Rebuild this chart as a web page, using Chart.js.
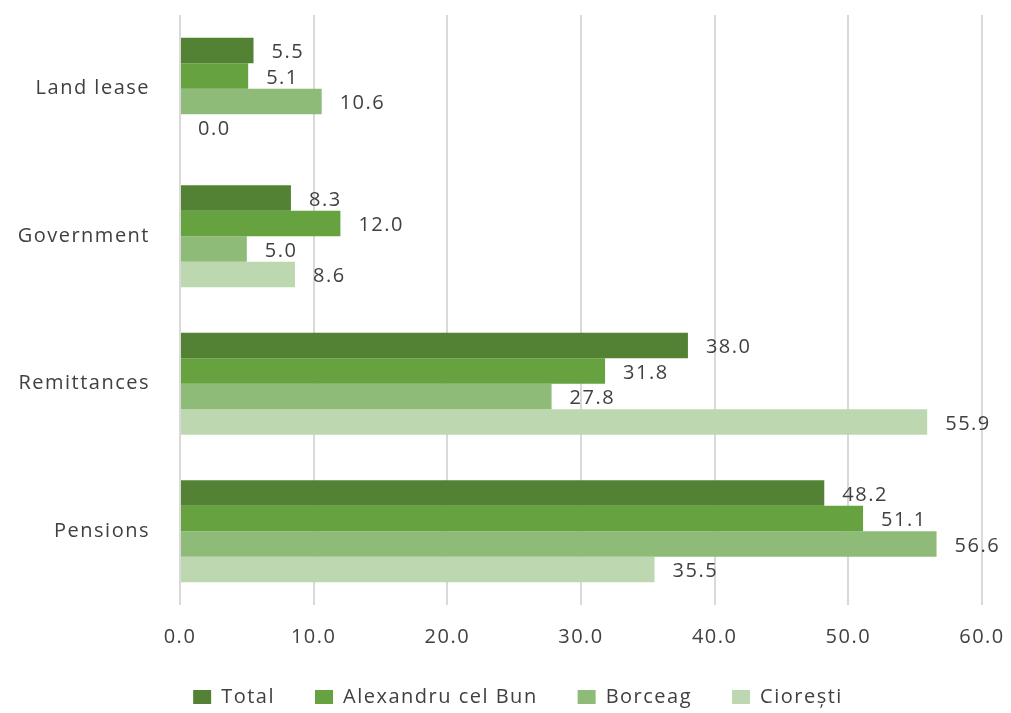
<!DOCTYPE html>
<html>
<head>
<meta charset="utf-8">
<script src="https://cdn.jsdelivr.net/npm/chart.js@4"></script>
<style>
html,body{margin:0;padding:0;background:#fff;}
#wrap{width:1011px;height:713px;position:relative;}
</style>
</head>
<body>
<div id="wrap"><canvas id="c" width="1011" height="713"></canvas></div>
<script>
const categories = ["Land lease", "Government", "Remittances", "Pensions"];
const seriesNames = ["Total", "Alexandru cel Bun", "Borceag", "Ciorești"];
const totalValues = [5.5, 8.3, 38.0, 48.2];
const alexandruValues = [5.1, 12.0, 31.8, 51.1];
const borceagValues = [10.6, 5.0, 27.8, 56.6];
const cioreștiValues = [0.0, 8.6, 55.9, 35.5];
const xTicks = [0, 10, 20, 30, 40, 50, 60];

const colors = ["#548235", "#66a23f", "#8fbb78", "#bdd7b0"];
const seriesValues = [totalValues, alexandruValues, borceagValues, cioreștiValues];
const FONT = "'Open Sans', sans-serif";
const TEXT = "#404040";
const SPACING = "1.5px";

const spacingPlugin = {
  id: 'spacing',
  beforeLayout(chart) { chart.ctx.letterSpacing = SPACING; },
  beforeDraw(chart) { chart.ctx.letterSpacing = SPACING; },
  afterLayout(chart) {
    const l = chart.legend;
    if (l) { l.left += 27; l.right += 27; }
  }
};

const valueLabels = {
  id: 'valueLabels',
  afterDatasetsDraw(chart) {
    const ctx = chart.ctx;
    ctx.save();
    ctx.letterSpacing = SPACING;
    ctx.font = "20px " + FONT;
    ctx.fillStyle = TEXT;
    ctx.textAlign = 'left';
    ctx.textBaseline = 'middle';
    chart.data.datasets.forEach((ds, di) => {
      const meta = chart.getDatasetMeta(di);
      meta.data.forEach((el, i) => {
        ctx.fillText(ds.data[i].toFixed(1), el.x + 18, el.y + 2);
      });
    });
    ctx.restore();
  }
};

new Chart(document.getElementById('c'), {
  type: 'bar',
  data: {
    labels: categories,
    datasets: seriesNames.map((n, i) => ({
      label: n,
      data: seriesValues[i],
      backgroundColor: colors[i],
      borderWidth: 0,
      categoryPercentage: 0.69,
      barPercentage: 1.0
    }))
  },
  options: {
    indexAxis: 'y',
    responsive: false,
    animation: false,
    devicePixelRatio: 1,
    layout: { padding: { top: 15, right: 29, left: 0, bottom: -4 } },
    plugins: {
      legend: {
        position: 'bottom',
        labels: {
          boxWidth: 18, boxHeight: 14,
          color: TEXT,
          font: { family: FONT, size: 20 },
          padding: 40
        }
      },
      tooltip: { enabled: false }
    },
    scales: {
      x: {
        min: 0, max: 60,
        afterBuildTicks(axis) { axis.ticks = xTicks.map(v => ({ value: v })); },
        ticks: {
          color: TEXT,
          font: { family: FONT, size: 20 },
          padding: 20,
          maxRotation: 0,
          callback: v => Number(v).toFixed(1)
        },
        grid: { color: '#d9d9d9', lineWidth: 2, drawTicks: false },
        border: { display: false },
        afterFit(axis) { axis.height = 42; axis.paddingLeft = 0; axis.paddingRight = 0; }
      },
      y: {
        ticks: {
          color: TEXT,
          font: { family: FONT, size: 20 },
          padding: 30
        },
        grid: { display: false, drawTicks: false },
        border: { display: false },
        afterFit(axis) { axis.width = 180; axis.paddingTop = 0; axis.paddingBottom = 0; }
      }
    }
  },
  plugins: [spacingPlugin, valueLabels]
});
</script>
</body>
</html>
